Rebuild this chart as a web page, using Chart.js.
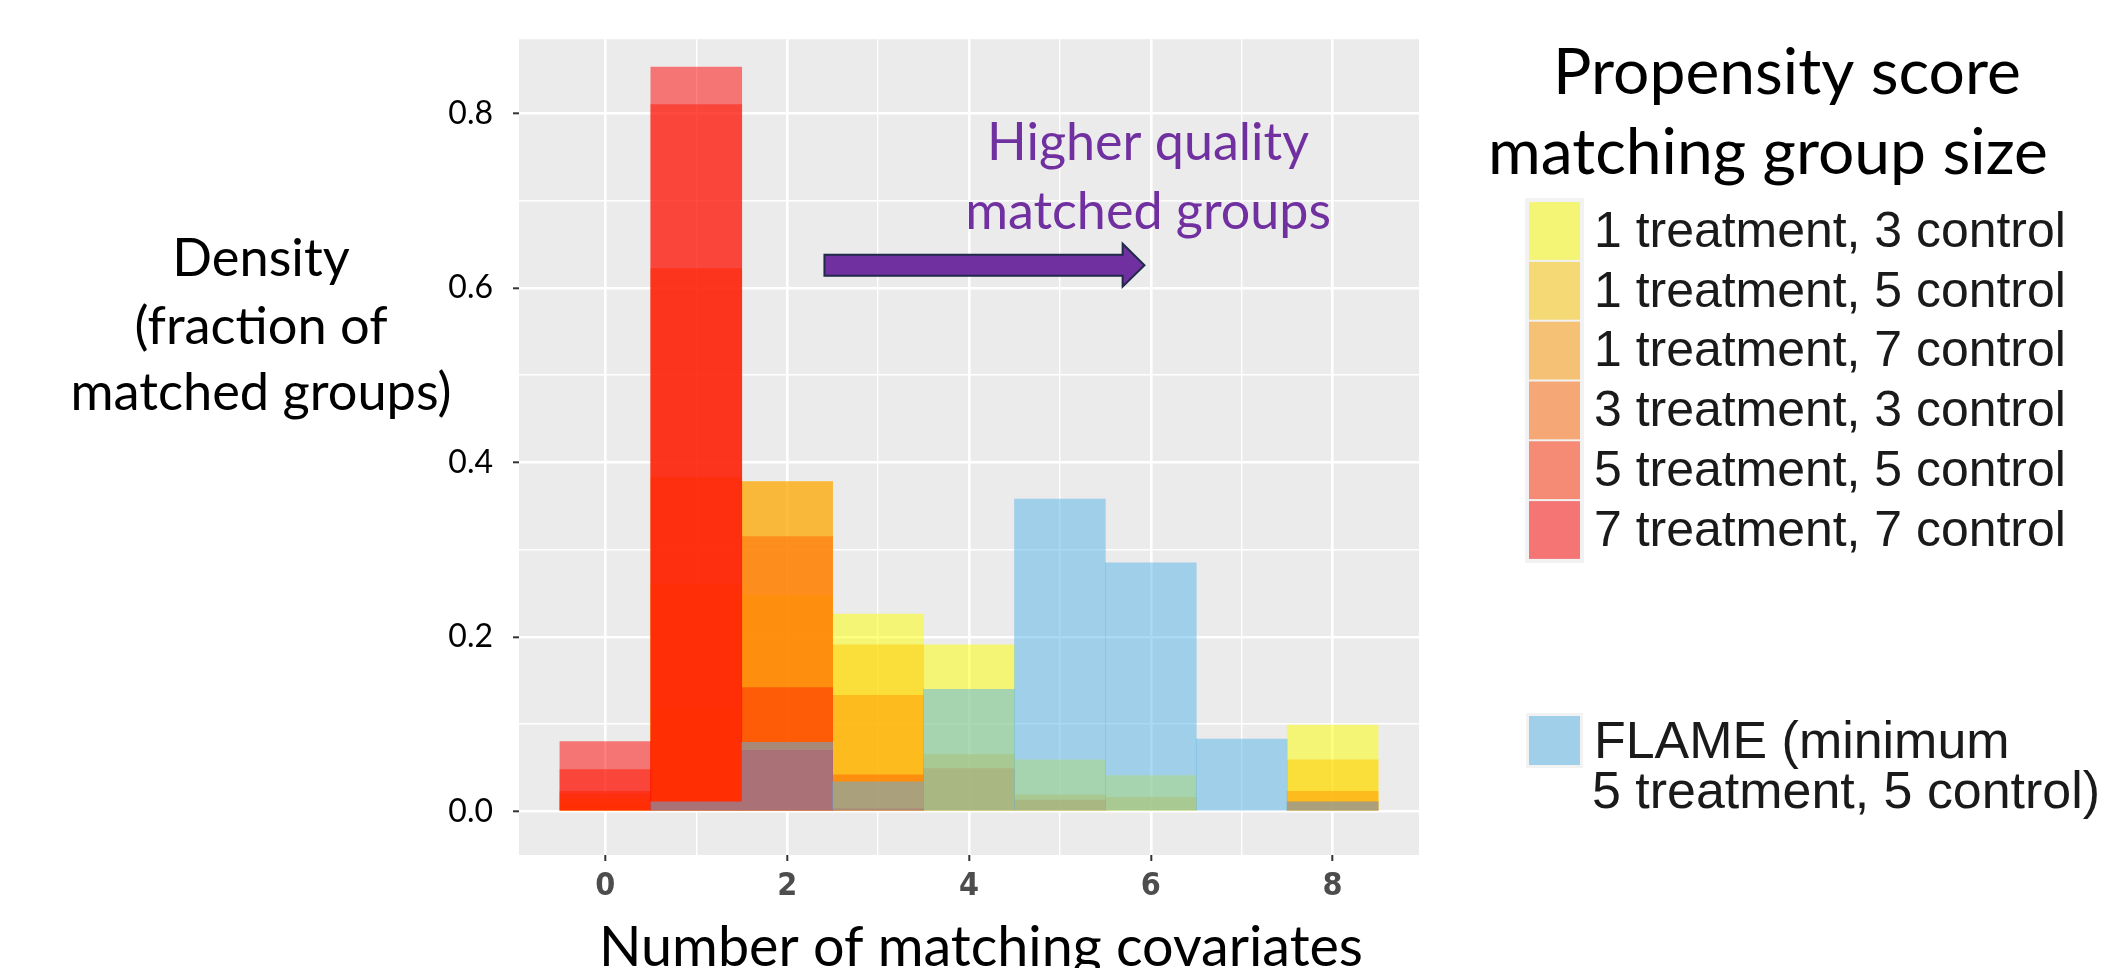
<!DOCTYPE html>
<html>
<head>
<meta charset="utf-8">
<script src="https://cdn.jsdelivr.net/npm/chart.js@4.4.0/dist/chart.umd.min.js"></script>
<style>
html,body{margin:0;padding:0;background:#ffffff;overflow:hidden}
#wrap{position:relative;width:2105px;height:968px}
canvas{display:block}
</style>
</head>
<body>
<div id="wrap"><canvas id="c" width="2105" height="968"></canvas></div>
<script>
// ---------- data ----------
const bins = [0, 1, 2, 3, 4, 5, 6, 7, 8];               // number of matching covariates
const xTickLabels = ['0', '2', '4', '6', '8'];
const yGridValues = [0, 0.1, 0.2, 0.3, 0.4, 0.5, 0.6, 0.7, 0.8];
const yTickLabels = ['0.0', '0.2', '0.4', '0.6', '0.8'];

const psmNames = [
  '1 treatment, 3 control',
  '1 treatment, 5 control',
  '1 treatment, 7 control',
  '3 treatment, 3 control',
  '5 treatment, 5 control',
  '7 treatment, 7 control'
];
const t1c3 = [0.015, 0.120, 0.248, 0.226, 0.191, 0.059, 0.041, 0.000, 0.099];
const t1c5 = [0.010, 0.260, 0.378, 0.191, 0.065, 0.019, 0.016, 0.000, 0.059];
const t1c7 = [0.020, 0.383, 0.378, 0.133, 0.049, 0.013, 0.000, 0.000, 0.023];
const t3c3 = [0.023, 0.622, 0.315, 0.042, 0.000, 0.000, 0.000, 0.000, 0.011];
const t5c5 = [0.048, 0.810, 0.142, 0.003, 0.000, 0.000, 0.000, 0.000, 0.000];
const t7c7 = [0.080, 0.853, 0.070, 0.000, 0.000, 0.000, 0.000, 0.000, 0.000];
const flameName = ['FLAME (minimum', '5 treatment, 5 control)'];
const flame = [0.000, 0.011, 0.079, 0.034, 0.140, 0.358, 0.285, 0.083, 0.011];

const psmColors = [
  'rgba(255,255,0,0.5)',
  'rgba(255,200,0,0.5)',
  'rgba(255,152,0,0.5)',
  'rgba(255,100,0,0.5)',
  'rgba(255,42,0,0.5)',
  'rgba(255,0,0,0.5)'
];
const flameColor = 'rgba(86,180,233,0.5)';

const legendTitle = ['Propensity score', 'matching group size'];
const yTitle = ['Density', '(fraction of', 'matched groups)'];
const xTitle = 'Number of matching covariates';
const noteText = ['Higher quality', 'matched groups'];

// ---------- datasets ----------
const toPoints = vals => bins.map((b, k) => ({ x: b, y: vals[k] === 0 ? null : vals[k] }));
const psmSeries = [t1c3, t1c5, t1c7, t3c3, t5c5, t7c7];
const datasets = psmSeries.map((vals, i) => ({
  label: psmNames[i],
  data: toPoints(vals),
  backgroundColor: psmColors[i],
  borderWidth: 0,
  grouped: false,
  barPercentage: 1,
  categoryPercentage: 1,
  order: 6 - i          // 1T3C drawn first (bottom), 7T7C later
}));
datasets.push({
  label: flameName.join(' '),
  data: toPoints(flame),
  backgroundColor: flameColor,
  borderWidth: 0,
  grouped: false,
  barPercentage: 1,
  categoryPercentage: 1,
  order: 0              // FLAME on top
});

// ---------- helpers ----------
function fitSize(ctx, text, width, family, weight) {
  ctx.font = `${weight} 100px ${family}`;
  return 100 * width / ctx.measureText(text).width;
}

const panelBg = {
  id: 'panelBg',
  beforeDraw(chart) {
    const { ctx, chartArea: a } = chart;
    ctx.save();
    ctx.fillStyle = '#ffffff';
    ctx.fillRect(0, 0, chart.width, chart.height);
    ctx.fillStyle = '#EBEBEB';
    ctx.fillRect(a.left, a.top, a.right - a.left, a.bottom - a.top);
    ctx.restore();
  }
};

const decorations = {
  id: 'decorations',
  afterDraw(chart) {
    const ctx = chart.ctx;
    const xs = chart.scales.x, ys = chart.scales.y;
    ctx.save();

    // ---- y axis title (Calibri-like) ----
    const cal = 'Lato, "Open Sans", sans-serif';
    let s = fitSize(ctx, yTitle[2], 381, cal, 'normal');
    ctx.font = `normal ${s}px ${cal}`;
    ctx.fillStyle = '#000000';
    ctx.textAlign = 'center';
    ctx.textBaseline = 'alphabetic';
    const yTitleBase = [276, 344, 410];
    yTitle.forEach((t, i) => ctx.fillText(t, 261, yTitleBase[i]));

    // ---- x axis title ----
    s = fitSize(ctx, xTitle, 764, cal, 'normal');
    ctx.font = `normal ${s}px ${cal}`;
    ctx.fillText(xTitle, 981, 966);

    // ---- purple annotation + arrow ----
    s = fitSize(ctx, noteText[1], 366, cal, 'normal');
    ctx.font = `normal ${s}px ${cal}`;
    ctx.fillStyle = '#7030A0';
    ctx.fillText(noteText[0], xs.getPixelForValue(5.97), ys.getPixelForValue(0.746));
    ctx.fillText(noteText[1], xs.getPixelForValue(5.97), ys.getPixelForValue(0.667));

    const x0 = xs.getPixelForValue(2.41), xh = xs.getPixelForValue(5.69), xt = xs.getPixelForValue(5.93);
    const yc = ys.getPixelForValue(0.626);
    const sh = 10.5, hh = 21.5;
    ctx.beginPath();
    ctx.moveTo(x0, yc - sh);
    ctx.lineTo(xh, yc - sh);
    ctx.lineTo(xh, yc - hh);
    ctx.lineTo(xt, yc);
    ctx.lineTo(xh, yc + hh);
    ctx.lineTo(xh, yc + sh);
    ctx.lineTo(x0, yc + sh);
    ctx.closePath();
    ctx.fillStyle = '#7030A0';
    ctx.fill();
    ctx.lineWidth = 2;
    ctx.strokeStyle = '#1F2A48';
    ctx.stroke();

    // ---- legend title ----
    s = fitSize(ctx, legendTitle[1], 560, cal, 'normal');
    ctx.font = `normal ${s}px ${cal}`;
    ctx.fillStyle = '#000000';
    ctx.fillText(legendTitle[0], 1787, 94);
    ctx.fillText(legendTitle[1], 1768, 174);

    // ---- legend keys ----
    const ar = '"Liberation Sans", Arial, sans-serif';
    s = fitSize(ctx, psmNames[0], 472, ar, 'normal');
    ctx.font = `normal ${s}px ${ar}`;
    ctx.textAlign = 'left';
    ctx.textBaseline = 'middle';
    const kx = 1529, kw = 51, step = 59.8, ky0 = 231;
    ctx.fillStyle = '#F2F2F2';
    ctx.fillRect(kx - 4, ky0 - step / 2 - 3, kw + 8, step * 6 + 6);
    psmNames.forEach((name, i) => {
      const cy = ky0 + i * step;
      ctx.fillStyle = '#EBEBEB';
      ctx.fillRect(kx, cy - step / 2 + 1, kw, step - 2);
      ctx.fillStyle = psmColors[i];
      ctx.fillRect(kx, cy - step / 2 + 1, kw, step - 2);
      ctx.fillStyle = '#1A1A1A';
      ctx.fillText(name, 1594, cy + 2);
    });

    // FLAME key
    ctx.fillStyle = '#F2F2F2';
    ctx.fillRect(kx - 3, 713, kw + 6, 55);
    ctx.fillStyle = '#EBEBEB';
    ctx.fillRect(kx, 716, kw, 49);
    ctx.fillStyle = flameColor;
    ctx.fillRect(kx, 716, kw, 49);
    ctx.font = `normal ${s * 1.04}px ${ar}`;
    ctx.fillStyle = '#1A1A1A';
    ctx.fillText(flameName[0], 1594, 744);
    ctx.fillText(flameName[1], 1592, 794);

    ctx.restore();
  }
};

// ---------- chart ----------
const Y_AXIS_W = 130, X_AXIS_H = 113;
new Chart(document.getElementById('c'), {
  type: 'bar',
  data: { datasets },
  plugins: [panelBg, decorations],
  options: {
    responsive: false,
    animation: false,
    devicePixelRatio: 1,
    layout: { padding: { left: 519 - Y_AXIS_W, top: 36, right: 2105 - 1419, bottom: 0 } },
    plugins: { legend: { display: false }, tooltip: { enabled: false }, title: { display: false } },
    scales: {
      x: {
        type: 'linear',
        min: -0.95,
        max: 8.95,
        offset: false,
        stacked: false,
        border: { display: false },
        grid: {
          offset: false,
          color: '#FFFFFF',
          lineWidth: c => (c.tick && xTickLabels.includes(String(c.tick.value))) ? 2.6 : 1.4,
          drawTicks: true,
          tickLength: 6,
          tickWidth: 2,
          tickColor: c => (c.tick && xTickLabels.includes(String(c.tick.value))) ? '#333333' : 'rgba(0,0,0,0)'
        },
        afterBuildTicks: sc => { sc.ticks = bins.map(v => ({ value: v })); },
        afterFit: sc => { sc.height = X_AXIS_H; },
        ticks: {
          autoSkip: false,
          maxRotation: 0,
          padding: 6,
          color: '#4D4D4D',
          font: { family: '"Liberation Sans Narrow", "DejaVu Sans Condensed", sans-serif', weight: 'bold', size: 32 },
          callback: v => xTickLabels.includes(String(v)) ? String(v) : ''
        }
      },
      y: {
        type: 'linear',
        min: -0.05,
        max: 0.885,
        stacked: false,
        border: { display: false },
        grid: {
          color: '#FFFFFF',
          lineWidth: c => (c.index % 2 === 0) ? 2.6 : 1.4,
          drawTicks: true,
          tickLength: 6,
          tickWidth: 2,
          tickColor: c => (c.index % 2 === 0) ? '#333333' : 'rgba(0,0,0,0)'
        },
        afterBuildTicks: sc => { sc.ticks = yGridValues.map(v => ({ value: v })); },
        afterFit: sc => { sc.width = Y_AXIS_W; },
        ticks: {
          autoSkip: false,
          padding: 20,
          color: '#000000',
          font: { family: 'Lato, "Open Sans", sans-serif', size: 32 },
          callback: (v, i) => (i % 2 === 0) ? yTickLabels[i / 2] : ''
        }
      }
    }
  }
});
</script>
